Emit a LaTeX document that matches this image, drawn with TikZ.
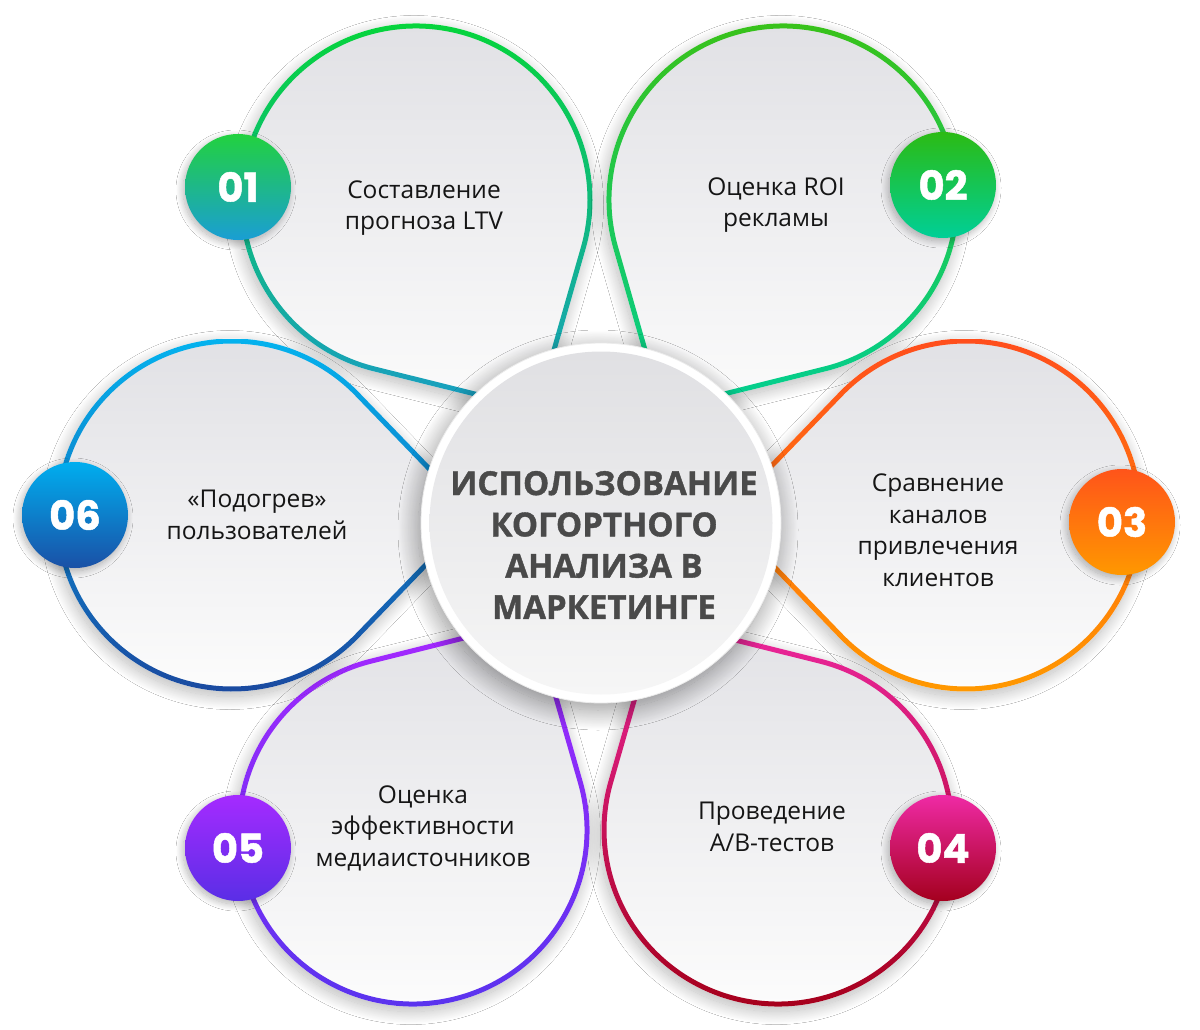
\documentclass[tikz,border=0pt]{standalone}
\usepackage{fontspec}
\setmainfont{Open Sans}
\newfontfamily\titlefont[BoldFeatures={FakeBold=1.2}]{Open Sans}
\newfontfamily\numfont[BoldFeatures={FakeBold=1.2}]{Poppins}
\usetikzlibrary{shadows.blur}

\definecolor{petaltop}{HTML}{E1E1E5}
\definecolor{petalbot}{HTML}{FCFCFC}
\definecolor{hubtop}{HTML}{E0E0E3}
\definecolor{hubbot}{HTML}{F6F6F6}
\definecolor{titlegray}{HTML}{4A4A4A}
\definecolor{txt}{HTML}{151515}

\definecolor{oAt}{HTML}{06D43C}\definecolor{oAb}{HTML}{1A9CC8}
\definecolor{oBt}{HTML}{38C21A}\definecolor{oBb}{HTML}{00CF96}
\definecolor{oCt}{HTML}{FF4E1C}\definecolor{oCb}{HTML}{FF9800}
\definecolor{oDt}{HTML}{EE28A2}\definecolor{oDb}{HTML}{A6001C}
\definecolor{oEt}{HTML}{A828FF}\definecolor{oEb}{HTML}{5A33EE}
\definecolor{oFt}{HTML}{04B2EE}\definecolor{oFb}{HTML}{1A4AA0}

\definecolor{bAt}{HTML}{22D13F}\definecolor{bAb}{HTML}{1A9ED4}
\definecolor{bBt}{HTML}{2BBB14}\definecolor{bBb}{HTML}{00CF97}
\definecolor{bCt}{HTML}{FF541A}\definecolor{bCb}{HTML}{FF9800}
\definecolor{bDt}{HTML}{EF2AA5}\definecolor{bDb}{HTML}{A4001E}
\definecolor{bEt}{HTML}{A52BFF}\definecolor{bEb}{HTML}{5A2EE6}
\definecolor{bFt}{HTML}{00AEEF}\definecolor{bFb}{HTML}{1A50A6}

% teardrop outline in local frame: circle of radius #1, tip on +x axis
\newcommand\petalshape[1]{(1.39*#1,0) -- (44:#1) arc[start angle=44,end angle=316,radius=#1] -- cycle}

% #1 cx, #2 cy, #3 rotation, #4/#5 outline colours, #6/#7 shading y-range
\newcommand\mkpetal[7]{%
  \fill[white, blur shadow={shadow xshift=-2pt, shadow yshift=-5pt, shadow blur radius=13pt,
        shadow blur steps=30, shadow opacity=28},
        shift={(#1,#2)}, rotate=#3] \petalshape{176.5};
  \begin{scope}[shift={(#1,#2)}, rotate=#3]
    \clip \petalshape{174};
    \shade[rotate=-#3, shift={(-#1,-#2)}, top color=petaltop, bottom color=petalbot]
      (#1-270,#6) rectangle (#1+270,#7);
  \end{scope}
  \begin{scope}[shift={(#1,#2)}, rotate=#3, even odd rule]
    \clip \petalshape{176.5} \petalshape{171.5};
    \shade[rotate=-#3, shift={(-#1,-#2)}, top color=#4, bottom color=#5]
      (#1-270,#6) rectangle (#1+270,#7);
  \end{scope}
}

\tikzset{
  badge/.style={circle, minimum size=106pt, inner sep=0pt, text=white,
    font=\numfont\bfseries\fontsize{40}{40}\selectfont,
    blur shadow={shadow xshift=-2pt, shadow yshift=-3pt, shadow blur radius=7pt,
      shadow blur steps=20, shadow opacity=30}},
  label/.style={align=center, text=txt, font=\fontsize{24.5}{31.5}\selectfont},
}

\begin{document}
\begin{tikzpicture}[x=1pt, y=-1pt]
\useasboundingbox (0,0) rectangle (1200,1030);
\fill[white] (0,0) rectangle (1200,1030);

% petals
\mkpetal{416}{200}{-60}{oAt}{oAb}{24}{420}
\mkpetal{783}{200}{-120}{oBt}{oBb}{24}{420}
\mkpetal{966}{515}{180}{oCt}{oCb}{339}{691}
\mkpetal{778}{830}{120}{oDt}{oDb}{610}{1006}
\mkpetal{413}{830}{60}{oEt}{oEb}{610}{1006}
\mkpetal{232}{515}{0}{oFt}{oFb}{339}{691}

% central circle
\node[circle, minimum size=360pt, inner sep=0pt, fill=white, draw=black!8, line width=0.8pt,
      blur shadow={shadow xshift=-3pt, shadow yshift=-7pt, shadow blur radius=20pt,
        shadow blur steps=30, shadow opacity=42}]
      (hubrim) at (601,523) {};
\node[circle, minimum size=343pt, inner sep=0pt, top color=hubtop, bottom color=hubbot] (hub) at (601,523) {};
\node[align=center, text=titlegray, font=\titlefont\bfseries\fontsize{33}{41.3}\selectfont] (title) at (604,545)
  {ИСПОЛЬЗОВАНИЕ\\КОГОРТНОГО\\АНАЛИЗА В\\МАРКЕТИНГЕ};

% labels
\node[label] (t1) at (424,208) {Составление\\прогноза LTV};
\node[label] (t2) at (776,205) {Оценка ROI\\рекламы};
\node[label] (t3) at (938,530) {Сравнение\\каналов\\привлечения\\клиентов};
\node[label] (t4) at (772,827) {Проведение\\A/B-тестов};
\node[label] (t5) at (423,828) {Оценка\\эффективности\\медиаисточников};
\node[label] (t6) at (257,515) {«Подогрев»\\пользователей};

% badges
\node[badge, top color=bAt, bottom color=bAb] (n1) at (238,187) {01};
\node[badge, top color=bBt, bottom color=bBb] (n2) at (943,185) {02};
\node[badge, top color=bCt, bottom color=bCb] (n3) at (1122,522) {03};
\node[badge, top color=bDt, bottom color=bDb] (n4) at (943,848) {04};
\node[badge, top color=bEt, bottom color=bEb] (n5) at (238,848) {05};
\node[badge, top color=bFt, bottom color=bFb] (n6) at (75,515) {06};
\end{tikzpicture}
\end{document}
